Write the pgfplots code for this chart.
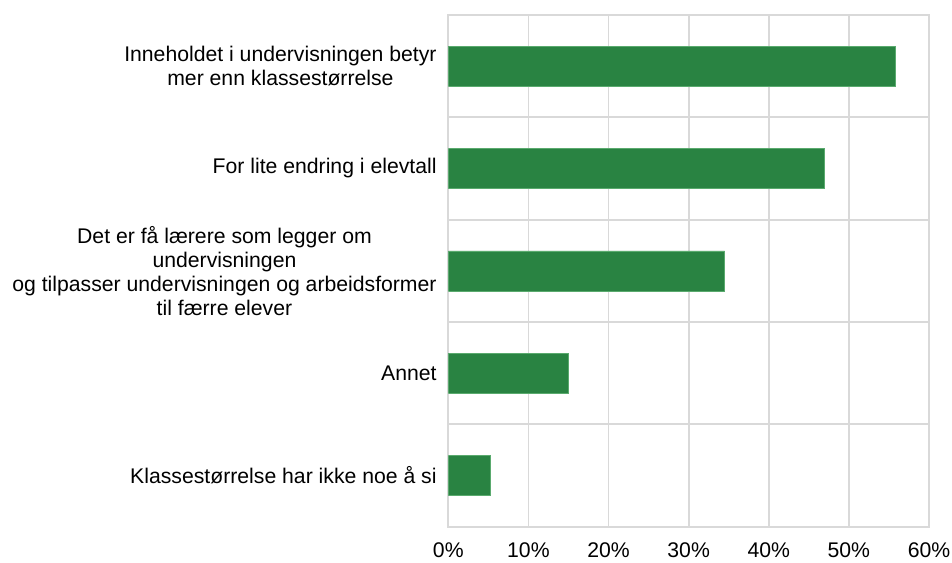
\documentclass[border=0pt]{standalone}
\usepackage{pgfplots}
\pgfplotsset{compat=1.18}
\usepackage{fontspec}
\setmainfont{Liberation Sans}
\definecolor{barg}{RGB}{41,131,66}
\definecolor{baredge}{RGB}{90,170,110}
\definecolor{gridc}{RGB}{217,217,217}
\begin{document}
\begin{tikzpicture}
\useasboundingbox (-448.3pt,-35.3pt) rectangle (503.7pt,526.7pt);
\begin{axis}[
  at={(0pt,0pt)}, anchor=south west,
  scale only axis, width=480.7pt, height=511.7pt,
  xmin=0, xmax=60, ymin=-0.5, ymax=4.5,
  xtick={0,10,...,60},
  ytick={0,1,2,3,4},
  minor ytick={-0.5,0.5,1.5,2.5,3.5,4.5},
  yticklabels={
    {Klassestørrelse har ikke noe å si},
    {Annet},
    {Det er få lærere som legger om\\undervisningen\\og tilpasser undervisningen og arbeidsformer\\til færre elever},
    {For lite endring i elevtall},
    {Inneholdet i undervisningen betyr\\mer enn klassestørrelse}},
  xmajorgrids, yminorgrids,
  grid style={gridc, line width=1.8pt},
  minor grid style={gridc, line width=1.8pt},
  axis line style={gridc, line width=1.8pt},
  major tick length=0pt, minor tick length=0pt,
  tick style={draw=none},
  /pgf/number format/assume math mode=true,
  xticklabel={\pgfmathprintnumber{\tick}\%},
  xticklabel style={font=\fontsize{21.2}{24}\selectfont, inner sep=0pt, yshift=-16pt},
  yticklabel style={font=\fontsize{21.2}{24}\selectfont, align=center, inner sep=0pt, xshift=-11.5pt},
  xbar, bar width=40pt,
]
\addplot[fill=barg, draw=baredge, line width=0.6pt] coordinates {
  (5.3,0) (15.0,1) (34.5,2) (46.9,3) (55.8,4)
};
\end{axis}
\end{tikzpicture}
\end{document}
